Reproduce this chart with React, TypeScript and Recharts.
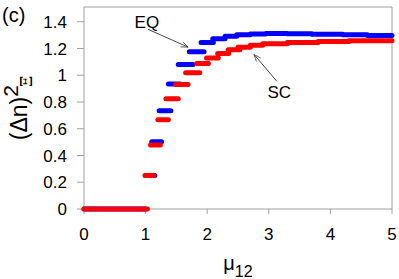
import React from 'react';
import { LineChart, Line, XAxis, YAxis, ReferenceLine, ReferenceDot } from 'recharts';

// each dash: [start, end] of mu12 and the value on it
const eqStart = [0, 1.0, 1.1, 1.22, 1.37, 1.53, 1.71, 1.9, 2.09, 2.29, 2.48, 2.7, 2.95, 3.3, 3.7, 4.2, 4.6];
const eqEnd = [1.0, 1.15, 1.26, 1.41, 1.56, 1.77, 1.95, 2.1, 2.29, 2.48, 2.7, 2.95, 3.3, 3.7, 4.2, 4.6, 5.0];
const eqValue = [0, 0.25, 0.503, 0.735, 0.935, 1.08, 1.175, 1.245, 1.272, 1.292, 1.302, 1.309, 1.312, 1.31, 1.306, 1.302, 1.297];

const scStart = [0, 0.99, 1.08, 1.2, 1.33, 1.49, 1.65, 1.83, 1.99, 2.17, 2.34, 2.5, 2.7, 2.9, 3.3, 3.8, 4.3];
const scEnd = [1.03, 1.13, 1.24, 1.37, 1.53, 1.69, 1.88, 2.02, 2.18, 2.35, 2.53, 2.7, 2.9, 3.3, 3.8, 4.3, 5.0];
const scValue = [0, 0.25, 0.478, 0.668, 0.825, 0.93, 1.018, 1.088, 1.128, 1.162, 1.19, 1.21, 1.225, 1.235, 1.245, 1.253, 1.258];

const xTicks = [0, 1, 2, 3, 4, 5];
const yTicks = [0, 0.2, 0.4, 0.6, 0.8, 1, 1.2, 1.4];
const yMax = 1.51;

const FONT = 'Liberation Sans, Arial, sans-serif';

function dashes(start: number[], end: number[], value: number[]) {
  const out: { x: number; y: number | null }[] = [];
  start.forEach((s, i) => {
    out.push({ x: s, y: value[i] });
    out.push({ x: end[i], y: value[i] });
    out.push({ x: end[i], y: null });
  });
  return out;
}

const eqData = dashes(eqStart, eqEnd, eqValue);
const scData = dashes(scStart, scEnd, scValue);

const arrow = (p: any) => (
  <line x1={p.x1} y1={p.y1} x2={p.x2} y2={p.y2} stroke="#333" strokeWidth={0.9} markerEnd="url(#arrowHead)" />
);

const word = (txt: string) => (p: any) => (
  <text x={p.cx} y={p.cy} textAnchor="middle" dominantBaseline="central" fontFamily={FONT} fontSize={17} fill="#000">
    {txt}
  </text>
);

const YLabel = (props: any) => {
  const vb = props.viewBox || { x: 0, y: 7, width: 84, height: 202 };
  const cx = 27;
  const cy = vb.y + vb.height / 2;
  return (
    <g>
      <text x={2} y={22} fontFamily={FONT} fontSize={20} fill="#000">(c)</text>
      <text transform={`rotate(-90, ${cx}, ${cy})`} x={cx} y={cy} textAnchor="middle" fontFamily={FONT} fill="#000">
        <tspan fontSize={23}>(Δn)</tspan>
        <tspan fontSize={21} dy={-9}>2</tspan>
        <tspan fontSize={16} fontFamily="DejaVu Serif, Liberation Serif, serif" dy={14} dx={-2}>Ξ</tspan>
      </text>
    </g>
  );
};

const XLabel = (props: any) => {
  const vb = props.viewBox || { x: 84, y: 209, width: 308, height: 70 };
  const cx = vb.x + vb.width / 2;
  return (
    <text x={cx} y={270} textAnchor="middle" fontFamily={FONT} fill="#000">
      <tspan fontSize={20}>μ</tspan>
      <tspan fontSize={16} dy={7}>12</tspan>
    </text>
  );
};

export default function App() {
  return (
    <div style={{ position: 'absolute', left: 0, top: 0, background: '#fff' }}>
      <LineChart width={399} height={279} margin={{ top: 7, right: 7, bottom: 0, left: 0 }}>
        <defs>
          <marker id="arrowHead" viewBox="0 0 10 10" refX={10} refY={5} markerWidth={9} markerHeight={7} markerUnits="userSpaceOnUse" orient="auto">
            <path d="M0,1 L10,5 L0,9" fill="none" stroke="#333" strokeWidth={1} />
          </marker>
        </defs>
        <XAxis
          dataKey="x"
          type="number"
          domain={[0, 5]}
          ticks={xTicks}
          height={70}
          stroke="#a0a0a0"
          axisLine={false}
          tickSize={5}
          tickMargin={14}
          tick={{ fill: '#000', fontSize: 17, fontFamily: FONT }}
          label={{ content: XLabel }}
        />
        <YAxis
          type="number"
          domain={[0, yMax]}
          ticks={yTicks}
          width={84}
          stroke="#a0a0a0"
          tickSize={7}
          tickMargin={10}
          tick={{ fill: '#000', fontSize: 17, fontFamily: FONT }}
          label={{ content: YLabel }}
        />
        <ReferenceLine y={0} stroke="#a0a0a0" ifOverflow="visible" zIndex={300} />
        <ReferenceLine y={yMax} stroke="#a0a0a0" ifOverflow="visible" />
        <ReferenceLine x={5} stroke="#a0a0a0" ifOverflow="visible" />
        <Line data={eqData} dataKey="y" stroke="#0000ff" strokeWidth={5} strokeLinecap="round" dot={false} activeDot={false} connectNulls={false} isAnimationActive={false} zIndex={700} />
        <Line data={scData} dataKey="y" stroke="#ff0000" strokeWidth={5} strokeLinecap="round" dot={false} activeDot={false} connectNulls={false} isAnimationActive={false} zIndex={701} />
        <ReferenceLine segment={[{ x: 1.04, y: 1.343 }, { x: 1.69, y: 1.21 }]} shape={arrow} ifOverflow="visible" />
        <ReferenceLine segment={[{ x: 3.13, y: 0.955 }, { x: 2.76, y: 1.155 }]} shape={arrow} ifOverflow="visible" />
        <ReferenceDot x={1.02} y={1.395} r={0} shape={word('EQ')} ifOverflow="visible" />
        <ReferenceDot x={3.17} y={0.874} r={0} shape={word('SC')} ifOverflow="visible" />
      </LineChart>
    </div>
  );
}
